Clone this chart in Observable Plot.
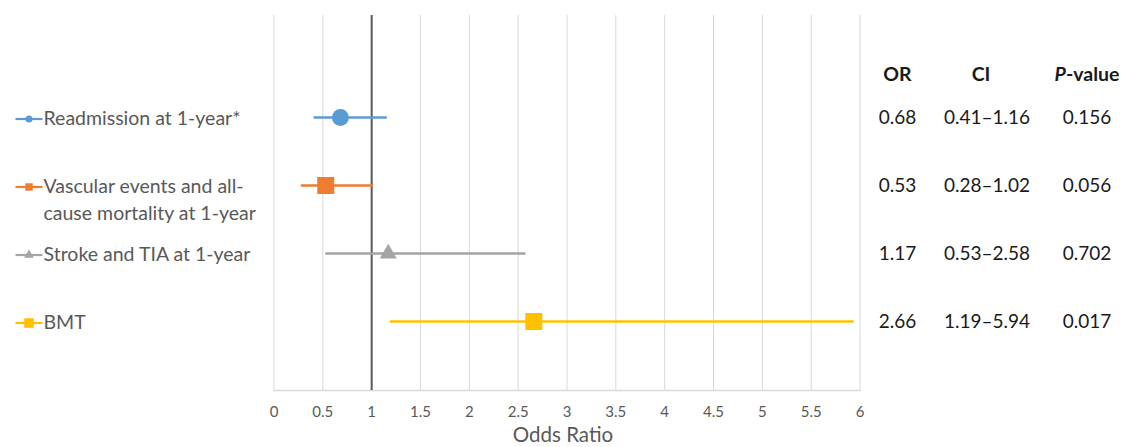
<!DOCTYPE html>
<html>
<head>
<meta charset="utf-8">
<script src="https://cdn.jsdelivr.net/npm/d3@7"></script>
<script src="https://cdn.jsdelivr.net/npm/@observablehq/plot@0.6"></script>
<style>
  html, body { margin: 0; padding: 0; background: #ffffff; }
  #chart svg { display: block; }
</style>
</head>
<body>
<div id="chart"></div>
<script>
// ---- data ----
const categories = [
  "Readmission at 1-year*",
  "Vascular events and all-\ncause mortality at 1-year",
  "Stroke and TIA at 1-year",
  "BMT"
];
const oddsRatio = [0.68, 0.53, 1.17, 2.66];
const ciLow = [0.41, 0.28, 0.53, 1.19];
const ciHigh = [1.16, 1.02, 2.58, 5.94];
const orLabels = ["0.68", "0.53", "1.17", "2.66"];
const ciLabels = ["0.41\u20131.16", "0.28\u20131.02", "0.53\u20132.58", "1.19\u20135.94"];
const pLabels = ["0.156", "0.056", "0.702", "0.017"];
const tableHeaders = ["OR", "CI", "P-value"];
const xTicks = [0, 0.5, 1, 1.5, 2, 2.5, 3, 3.5, 4, 4.5, 5, 5.5, 6];
const xLabel = "Odds Ratio";
const nullValue = 1;

// ---- styles ----
const colors = ["#5B9BD5", "#ED7D31", "#A5A5A5", "#FFC000"];
const symbols = ["circle", "square", "triangle", "square"];
const markerR = [8.5, 9.6, 6.3, 9.6];
const legendR = [3.5, 4.2, 3.6, 5.4];
const colOffsets = [37.5, 127, 227];
const font = "Lato, 'Open Sans', sans-serif";

const rows = categories.map((c, i) => ({
  cat: c, or: oddsRatio[i], lo: ciLow[i], hi: ciHigh[i],
  orText: orLabels[i], ciText: ciLabels[i], pText: pLabels[i]
}));
const tableCols = ["orText", "ciText", "pText"];

const lineSymbol = {
  draw(ctx) { ctx.moveTo(-13.5, 0); ctx.lineTo(13.5, 0); }
};

const marks = [
  Plot.gridX(xTicks, {stroke: "#d9d9d9", strokeOpacity: 1, strokeWidth: 1}),
  Plot.frame({anchor: "bottom", stroke: "#d9d9d9", strokeWidth: 1.5}),
  Plot.ruleX([nullValue], {stroke: "#595959", strokeWidth: 2}),
  Plot.axisX({ticks: xTicks, tickSize: 0, tickPadding: 16, fontSize: 15, color: "#595959",
              label: null, tickFormat: d => String(d)}),
  Plot.text([xLabel], {frameAnchor: "bottom", dx: -4, dy: 51, text: d => d, fontSize: 20.5, fill: "#595959"})
];

rows.forEach((d, i) => {
  marks.push(Plot.ruleY([d], {y: "cat", x1: "lo", x2: "hi", stroke: colors[i], strokeWidth: 2.3}));
  marks.push(Plot.dot([d], {x: "or", y: "cat", r: markerR[i], symbol: symbols[i], fill: colors[i], stroke: "none"}));
  // legend
  marks.push(Plot.dot([d], {y: "cat", frameAnchor: "left", dx: -245, dy: 1.5, symbol: lineSymbol, r: 5,
                            fill: "none", stroke: colors[i], strokeWidth: 2.2}));
  marks.push(Plot.dot([d], {y: "cat", frameAnchor: "left", dx: -245, dy: 1.5, symbol: symbols[i], r: legendR[i],
                            fill: colors[i], stroke: "none"}));
});

// legend text: first line on the row, continuation lines below
marks.push(Plot.text(rows, {y: "cat", frameAnchor: "left", dx: -230.5, dy: 1.5, textAnchor: "start",
  text: d => d.cat.split("\n")[0], fill: "#595959", fontSize: 19.5}));
marks.push(Plot.text(rows.filter(d => d.cat.includes("\n")), {y: "cat", frameAnchor: "left", dx: -230.5, dy: 28.5,
  textAnchor: "start", text: d => d.cat.split("\n").slice(1).join("\n"), fill: "#595959", fontSize: 19.5}));

// table
tableCols.forEach((col, j) => {
  marks.push(Plot.text(rows, {y: "cat", frameAnchor: "right", dx: colOffsets[j], text: col,
    textAnchor: "middle", fill: "#1a1a1a", fontSize: 19}));
  marks.push(Plot.text([tableHeaders[j]], {frameAnchor: "top-right", dx: colOffsets[j] - (j === 1 ? 6 : 0), dy: 52, text: d => d,
    textAnchor: "middle", fill: "#1a1a1a", fontSize: 19.5, fontWeight: "bold"}));
});

const chart = Plot.plot({
  width: 1121,
  height: 447,
  marginLeft: 273.5,
  marginRight: 261.5,
  marginTop: 15,
  marginBottom: 57,
  style: {fontFamily: font, fontSize: "15px", background: "#ffffff", overflow: "visible"},
  x: {domain: [0, 6]},
  y: {type: "point", domain: categories, padding: 1.257, align: 0.596, axis: null},
  marks
});

// italic P in the header
chart.querySelectorAll("text").forEach(t => {
  if (t.textContent === "P-value") {
    t.textContent = "";
    const ns = "http://www.w3.org/2000/svg";
    const a = document.createElementNS(ns, "tspan");
    a.setAttribute("font-style", "italic");
    a.textContent = "P";
    const b = document.createElementNS(ns, "tspan");
    b.textContent = "-value";
    t.appendChild(a); t.appendChild(b);
  }
});

document.getElementById("chart").appendChild(chart);
</script>
</body>
</html>
